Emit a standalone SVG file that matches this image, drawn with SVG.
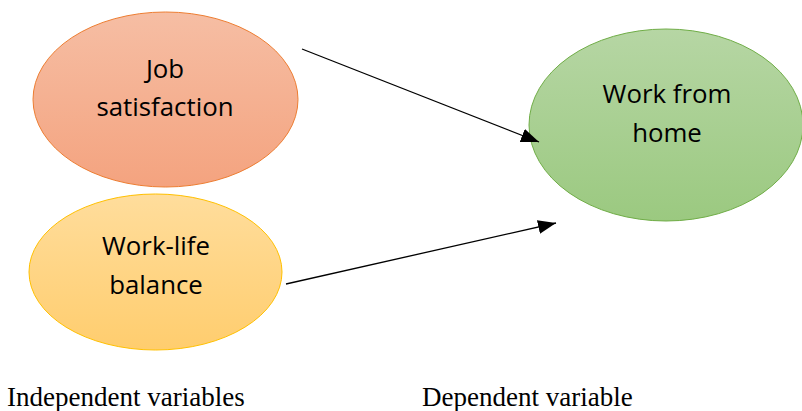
<svg xmlns="http://www.w3.org/2000/svg" width="802" height="411" viewBox="0 0 802 411">
<defs>
<linearGradient id="gOrange" x1="0" y1="0" x2="0" y2="1"><stop offset="0" stop-color="#F6BEA4"/><stop offset="1" stop-color="#F4A37F"/></linearGradient>
<linearGradient id="gYellow" x1="0" y1="0" x2="0" y2="1"><stop offset="0" stop-color="#FFDD9C"/><stop offset="1" stop-color="#FFCD6E"/></linearGradient>
<linearGradient id="gGreen" x1="0" y1="0" x2="0" y2="1"><stop offset="0" stop-color="#B6D6A4"/><stop offset="1" stop-color="#9BC980"/></linearGradient>
<marker id="arrow" markerUnits="userSpaceOnUse" markerWidth="18" markerHeight="14" refX="18" refY="7" orient="auto">
<path d="M0,0 L18,7 L0,14 Z" fill="#000"/>
</marker>
</defs>
<style>
.node-text{font-family:"Open Sans","Noto Sans","DejaVu Sans",sans-serif;font-size:25.8px;fill:#000;text-anchor:middle}
.caption{font-family:"Liberation Serif","Times New Roman",serif;font-size:27px;fill:#000}
.conn{stroke:#000;stroke-width:1.3;fill:none;marker-end:url(#arrow)}
</style>
<rect width="802" height="411" fill="#fff"/>
<g id="job-satisfaction">
<ellipse cx="165.5" cy="99.5" rx="132.5" ry="87.5" fill="url(#gOrange)" stroke="#ED7D31" stroke-width="1"/>
<text class="node-text" x="165" y="78">Job</text>
<text class="node-text" x="165" y="116">satisfaction</text>
</g>
<g id="work-life-balance">
<ellipse cx="155.5" cy="272" rx="126.5" ry="78" fill="url(#gYellow)" stroke="#FFC000" stroke-width="1"/>
<text class="node-text" x="156" y="255">Work-life</text>
<text class="node-text" x="156" y="294">balance</text>
</g>
<g id="work-from-home">
<ellipse cx="666" cy="125" rx="137" ry="96" fill="url(#gGreen)" stroke="#70AD47" stroke-width="1"/>
<text class="node-text" x="667" y="103">Work from</text>
<text class="node-text" x="667" y="142">home</text>
</g>
<g id="connectors">
<line class="conn" x1="302" y1="49" x2="539" y2="142"/>
<line class="conn" x1="286" y1="284" x2="556" y2="223"/>
</g>
<g id="captions">
<text class="caption" x="7" y="406">Independent variables</text>
<text class="caption" x="422" y="406">Dependent variable</text>
</g>
</svg>
